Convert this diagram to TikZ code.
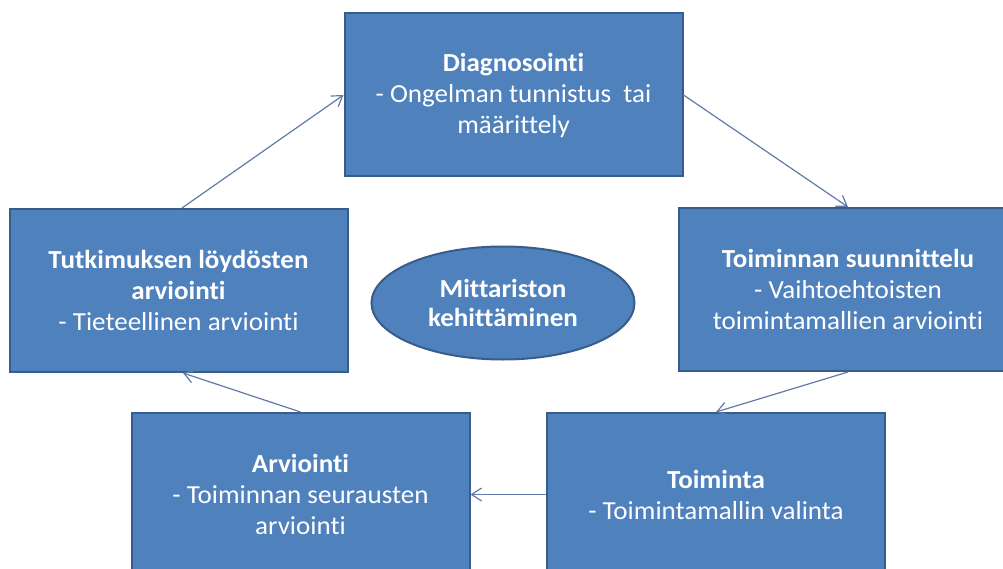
\documentclass[tikz,border=0pt]{standalone}
\usepackage{fontspec}
\setmainfont{Carlito}[RawFeature=-liga, FakeStretch=1.04]
\usetikzlibrary{arrows.meta,shapes.geometric}
\definecolor{boxfill}{RGB}{79,129,189}
\definecolor{boxline}{RGB}{56,93,138}
\definecolor{linkcol}{RGB}{98,122,166}

\begin{document}
\begin{tikzpicture}[x=1pt,y=-1pt,
  stage/.style={draw=boxline, line width=2pt, fill=boxfill, text=white,
    minimum width=338pt, minimum height=163pt, inner sep=0pt, align=center,
    font=\fontsize{26}{31}\selectfont},
  hub/.style={ellipse, draw=boxline, line width=2pt, fill=boxfill, text=white,
    minimum width=263pt, minimum height=113pt, inner sep=0pt, align=center,
    font=\bfseries\fontsize{26}{29}\selectfont},
  link/.style={draw=linkcol, line width=1.2pt,
    -{Straight Barb[length=10pt,width=13pt]}}
]
\useasboundingbox (0,0) rectangle (1003,569);
\clip (0,0) rectangle (1003,569);

% the five stages of the cycle
\node[stage] (diag) at (513.5,95) {\textbf{Diagnosointi}\\- Ongelman tunnistus\ \ tai\\määrittely};
\node[stage] (suun) at (848,289.5) {\textbf{Toiminnan suunnittelu}\\- Vaihtoehtoisten\\toimintamallien arviointi};
\node[stage] (toim) at (716,494.5) {\textbf{Toiminta}\\- Toimintamallin valinta};
\node[stage] (arvi) at (300.5,494.5) {\textbf{Arviointi}\\- Toiminnan seurausten\\arviointi};
\node[stage] (tutk) at (178.5,290.5) {\textbf{Tutkimuksen löydösten}\\\textbf{arviointi}\\- Tieteellinen arviointi};

% centre of the cycle
\node[hub] (hub) at (503,303) {Mittariston\\kehittäminen};

% cycle connectors
\coordinate (t1) at ([xshift=3.5pt]tutk.north);
\draw[link] (t1) -- (diag.west);
\draw[link] (diag.east) -- (suun.north);
\draw[link] (suun.south) -- (toim.north);
\draw[link] (toim.west) -- (arvi.east);
\draw[link] (arvi.north) -- ([xshift=4.5pt]tutk.south);
\end{tikzpicture}
\end{document}
